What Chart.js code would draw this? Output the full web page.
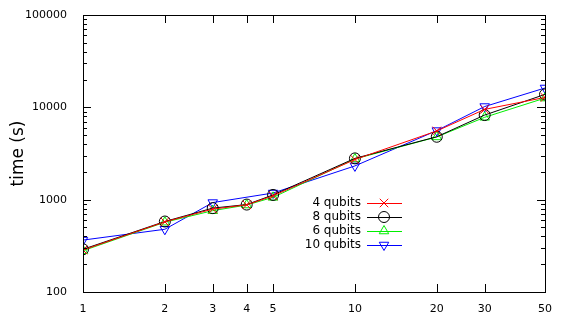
<!DOCTYPE html>
<html>
<head>
<meta charset="utf-8">
<script src="https://cdn.jsdelivr.net/npm/chart.js@4/dist/chart.umd.min.js"></script>
<style>
  html, body { margin: 0; padding: 0; background: #fff; }
  #wrap { width: 568px; height: 319px; }
</style>
</head>
<body>
<div id="wrap"><canvas id="plot"></canvas></div>
<script>
// data (10 qubits has no run at 4)
const xValues = [1, 2, 3, 4, 5, 10, 20, 30, 50];
const q4 = [285, 575, 790, 880, 1100, 2720, 5550, 9500, 12800];
const q8 = [290, 580, 810, 885, 1125, 2800, 4800, 8250, 13800];
const q6 = [280, 570, 760, 875, 1060, 2760, 4780, 7800, 12600];
const q10 = [365, 478, 930, null, 1180, 2320, 5600, 10200, 16200];
const xTicks = [1, 2, 3, 4, 5, 10, 20, 30, 50];
const yTicks = [100, 1000, 10000, 100000];

const series = [
  { label: '4 qubits', values: q4, color: '#ff0000', style: 'crossRot', rot: 0, r: 6 },
  { label: '8 qubits', values: q8, color: '#000000', style: 'circle', rot: 0, r: 5.5 },
  { label: '6 qubits', values: q6, color: '#00ee00', style: 'triangle', rot: 0, r: 5.5 },
  { label: '10 qubits', values: q10, color: '#0000ff', style: 'triangle', rot: 180, r: 5.5 }
];

const font = 'DejaVu Sans, Verdana, sans-serif';

// inside ticks on all four sides, gnuplot style
const tickPlugin = {
  id: 'ticks',
  afterDraw(chart) {
    const c = chart.ctx, a = chart.chartArea;
    const xs = chart.scales.x, ys = chart.scales.y;
    c.save();
    c.strokeStyle = '#000';
    c.lineWidth = 1;
    c.beginPath();
    xTicks.forEach(v => {
      const px = Math.round(xs.getPixelForValue(v)) + 0.5;
      c.moveTo(px, a.bottom); c.lineTo(px, a.bottom - 8);
      c.moveTo(px, a.top); c.lineTo(px, a.top + 8);
    });
    for (let d = 100; d < 100000; d *= 10) {
      for (let m = 1; m <= 10; m++) {
        const py = Math.round(ys.getPixelForValue(d * m)) + 0.5;
        const len = (m === 1 || m === 10) ? 8 : 4;
        c.moveTo(a.left, py); c.lineTo(a.left + len, py);
        c.moveTo(a.right, py); c.lineTo(a.right - len, py);
      }
    }
    c.stroke();
    c.strokeRect(Math.round(a.left) + 0.5, Math.round(a.top) + 0.5,
      Math.round(a.right - a.left), Math.round(a.bottom - a.top));
    c.restore();
  }
};

const keyPlugin = {
  id: 'key',
  afterDraw(chart) {
    const c = chart.ctx;
    c.save();
    c.font = '12px ' + font;
    c.textAlign = 'right';
    c.textBaseline = 'middle';
    series.forEach((s, i) => {
      const y = 203 + i * 14;
      c.fillStyle = '#000';
      c.fillText(s.label, 361, y);
      c.strokeStyle = s.color;
      c.lineWidth = 1;
      c.fillStyle = 'rgba(0,0,0,0)';
      Chart.helpers.drawPoint(c, { pointStyle: s.style, radius: s.r, rotation: s.rot, borderWidth: 1 }, 384, y);
      c.strokeStyle = s.color;
      c.beginPath(); c.moveTo(367, y + 0.5); c.lineTo(402, y + 0.5); c.stroke();
    });
    c.restore();
  }
};

new Chart(document.getElementById('plot'), {
  type: 'scatter',
  data: {
    datasets: series.map(s => ({
      label: s.label,
      data: xValues.map((x, i) => ({ x: x, y: s.values[i] })),
      showLine: true,
      spanGaps: true,
      borderColor: s.color,
      backgroundColor: 'rgba(0,0,0,0)',
      borderWidth: 1,
      pointStyle: s.style,
      pointRotation: s.rot,
      pointRadius: s.r,
      pointBorderWidth: 1,
      pointBorderColor: s.color,
      pointBackgroundColor: 'rgba(0,0,0,0)'
    }))
  },
  options: {
    responsive: true,
    maintainAspectRatio: false,
    animation: false,
    layout: { padding: { top: 15, right: 23, left: 8, bottom: 0 } },
    plugins: { legend: { display: false }, tooltip: { enabled: false } },
    scales: {
      x: {
        type: 'logarithmic',
        min: 1, max: 50,
        afterBuildTicks: s => { s.ticks = xTicks.map(v => ({ value: v })); },
        afterFit: s => { s.height = 27; },
        grid: { display: false },
        border: { display: false },
        ticks: {
          color: '#000', font: { family: font, size: 11 }, padding: 3,
          maxRotation: 0, autoSkip: false,
          callback: v => String(v)
        }
      },
      y: {
        type: 'logarithmic',
        min: 100, max: 100000,
        afterBuildTicks: s => { s.ticks = yTicks.map(v => ({ value: v })); },
        afterFit: s => { s.width = 75; },
        grid: { display: false },
        border: { display: false },
        title: { display: true, text: 'time (s)', color: '#000', font: { family: font, size: 17 }, padding: { top: 0, bottom: 0 } },
        ticks: {
          color: '#000', font: { family: font, size: 11 }, padding: 8,
          callback: v => String(v)
        }
      }
    }
  },
  plugins: [tickPlugin, keyPlugin]
});
</script>
</body>
</html>
